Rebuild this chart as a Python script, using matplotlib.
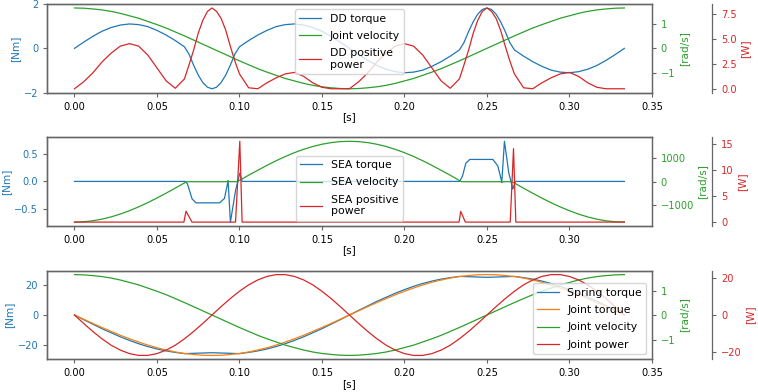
import numpy as np
import matplotlib
matplotlib.use("Agg")
import matplotlib.pyplot as plt

plt.rcParams.update({
    "font.size": 7.1,
    "axes.labelsize": 7.6,
    "legend.fontsize": 7.8,
    "legend.labelspacing": 0.68,
    "lines.linewidth": 0.9,
    "axes.edgecolor": "0.4",
    "axes.linewidth": 0.9,
    "xtick.color": "0.4",
    "ytick.color": "0.4",
    "xtick.labelcolor": "black",
    "xtick.major.size": 2.8,
    "ytick.major.size": 2.8,
})

C_BLUE, C_ORANGE, C_GREEN, C_RED = "#1f77b4", "#ff7f0e", "#2ca02c", "#d62728"

# one gait cycle sampled every 1/180 s
t = np.linspace(0.0, 1.0 / 3.0, 61)
# extra samples around the direct-drive torque/power peaks
t_extra = [0.0694, 0.0750, 0.0806, 0.0861, 0.0917, 0.0972,
           0.2361, 0.2417, 0.2472, 0.2528, 0.2583, 0.2639]
t_dd = np.sort(np.concatenate([t, t_extra]))

joint_vel = [1.65, 1.64, 1.61, 1.57, 1.51, 1.43, 1.33, 1.23, 1.10, 0.97, 0.83, 0.67, 0.51, 0.34, 0.17, 0.00,
             -0.17, -0.34, -0.51, -0.67, -0.83, -0.97, -1.10, -1.23, -1.33, -1.43, -1.51, -1.57, -1.61, -1.64, -1.65,
             -1.64, -1.61, -1.57, -1.51, -1.43, -1.33, -1.23, -1.10, -0.97, -0.83, -0.67, -0.51, -0.34, -0.17, 0.00,
             0.17, 0.34, 0.51, 0.67, 0.83, 0.97, 1.10, 1.23, 1.33, 1.43, 1.51, 1.57, 1.61, 1.64, 1.65]

dd_torque = [0.00, 0.28, 0.54, 0.77, 0.94, 1.05, 1.10, 1.07, 0.98, 0.81, 0.60, 0.35, 0.07,
             -0.26, -0.76, -1.20, -1.54, -1.75, -1.82, -1.75, -1.54, -1.20, -0.76, -0.26, 0.07,
             0.35, 0.60, 0.81, 0.98, 1.07, 1.10, 1.05, 0.94, 0.77, 0.54, 0.28, 0.00,
             -0.28, -0.54, -0.77, -0.94, -1.05, -1.10, -1.07, -0.98, -0.81, -0.60, -0.35,
             -0.07, 0.26, 0.76, 1.20, 1.54, 1.75, 1.82, 1.75, 1.54, 1.20, 0.76, 0.26, -0.07,
             -0.35, -0.60, -0.81, -0.98, -1.07, -1.10, -1.05, -0.94, -0.77, -0.54, -0.28, 0.00]

dd_power = [0.0, 0.7, 1.6, 2.7, 3.6, 4.3, 4.55, 4.3, 3.4, 2.1, 0.8, 0.05, 1.0,
            2.4, 3.9, 5.6, 6.9, 7.8, 8.15, 7.8, 7.1, 5.9, 4.3, 2.8, 1.5,
            0.1, 0.0, 0.6, 1.1, 1.5, 1.65, 1.25, 0.6, 0.15, 0.0, 0.0, 0.0,
            0.7, 1.6, 2.7, 3.6, 4.3, 4.55, 4.3, 3.4, 2.1, 0.8, 0.05,
            1.0, 2.4, 3.9, 5.6, 6.9, 7.8, 8.15, 7.8, 7.1, 5.9, 4.3, 2.8, 1.5,
            0.1, 0.0, 0.6, 1.1, 1.5, 1.65, 1.25, 0.6, 0.15, 0.0, 0.0, 0.0]

joint_torque = [0.0, -2.8, -5.6, -8.3, -10.9, -13.5, -15.8, -18.0, -20.0, -21.8, -23.3, -24.6, -25.6, -26.3, -26.8, -26.9,
                -26.8, -26.3, -25.6, -24.6, -23.3, -21.8, -20.0, -18.0, -15.8, -13.5, -10.9, -8.3, -5.6, -2.8, 0.0,
                2.8, 5.6, 8.3, 10.9, 13.5, 15.8, 18.0, 20.0, 21.8, 23.3, 24.6, 25.6, 26.3, 26.8, 26.9,
                26.8, 26.3, 25.6, 24.6, 23.3, 21.8, 20.0, 18.0, 15.8, 13.5, 10.9, 8.3, 5.6, 2.8, 0.0]

spring_torque = [0.0, -3.1, -6.1, -9.1, -11.8, -14.5, -16.9, -19.1, -21.0, -22.6, -23.9, -24.9, -25.7, -25.5, -25.3, -25.1,
                 -25.3, -25.5, -25.7, -24.9, -23.9, -22.6, -21.0, -19.1, -16.9, -14.5, -11.8, -9.1, -6.1, -3.1, 0.0,
                 3.1, 6.1, 9.1, 11.8, 14.5, 16.9, 19.1, 21.0, 22.6, 23.9, 24.9, 25.7, 25.5, 25.3, 25.1,
                 25.3, 25.5, 25.7, 24.9, 23.9, 22.6, 21.0, 19.1, 16.9, 14.5, 11.8, 9.1, 6.1, 3.1, 0.0]

joint_power = [0.0, -4.6, -9.0, -13.0, -16.5, -19.2, -21.1, -22.1, -22.1, -21.1, -19.2, -16.5, -13.0, -9.0, -4.6, 0.0,
               4.6, 9.0, 13.0, 16.5, 19.2, 21.1, 22.1, 22.1, 21.1, 19.2, 16.5, 13.0, 9.0, 4.6, 0.0,
               -4.6, -9.0, -13.0, -16.5, -19.2, -21.1, -22.1, -22.1, -21.1, -19.2, -16.5, -13.0, -9.0, -4.6, 0.0,
               4.6, 9.0, 13.0, 16.5, 19.2, 21.1, 22.1, 22.1, 21.1, 19.2, 16.5, 13.0, 9.0, 4.6, 0.0]

# SEA signals have their own (irregular) time stamps
t_sea_tau = [0.0, 0.0672, 0.0684, 0.0713, 0.0737, 0.0879, 0.0909, 0.0931, 0.0945, 0.0976, 0.1002, 0.1016,
             0.2335, 0.2352, 0.2372, 0.2396, 0.2536, 0.2566, 0.2590, 0.2606, 0.2632, 0.2657, 0.2672, 0.3333]
sea_torque = [0.0, 0.0, -0.04, -0.32, -0.39, -0.39, -0.31, 0.01, -0.74, -0.17, 0.15, 0.0,
              0.0, 0.10, 0.33, 0.40, 0.40, 0.28, -0.01, 0.73, 0.16, -0.14, 0.0, 0.0]

t_sea_vel = [0.0, 0.0056, 0.0111, 0.0167, 0.0222, 0.0278, 0.0333, 0.0389, 0.0444, 0.0500, 0.0556, 0.0611,
             0.0667, 0.0680, 0.0925, 0.0931, 0.0938, 0.0986, 0.1000, 0.1056, 0.1111, 0.1167, 0.1222, 0.1278,
             0.1333, 0.1389, 0.1444, 0.1500, 0.1556, 0.1611, 0.1667, 0.1722, 0.1778, 0.1833, 0.1889, 0.1944,
             0.2000, 0.2056, 0.2111, 0.2167, 0.2222, 0.2278, 0.2333, 0.2347, 0.2584, 0.2590, 0.2597, 0.2652,
             0.2667, 0.2722, 0.2778, 0.2833, 0.2889, 0.2944, 0.3000, 0.3056, 0.3111, 0.3167, 0.3222, 0.3278, 0.3333]
sea_vel = [-1700, -1686, -1644, -1575, -1481, -1361, -1221, -1058, -881, -686, -480, -269,
           -50, 0, 0, 40, 0, 0, 55, 274, 483, 690, 881, 1061,
           1221, 1363, 1481, 1576, 1645, 1686, 1700, 1686, 1644, 1575, 1481, 1361,
           1221, 1058, 881, 686, 480, 269, 50, 0, 0, -40, 0, 0,
           -59, -274, -488, -691, -885, -1061, -1223, -1366, -1484, -1578, -1646, -1687, -1700]

t_sea_pow = [0.0, 0.0663, 0.0676, 0.0712, 0.0976, 0.1002, 0.1016,
             0.2331, 0.2341, 0.2369, 0.2641, 0.2661, 0.2675, 0.3333]
sea_power = [0.0, 0.0, 2.1, 0.0, 0.0, 15.5, 0.0,
             0.0, 2.05, 0.0, 0.0, 14.1, 0.0, 0.0]

x_ticks = [0.0, 0.05, 0.10, 0.15, 0.20, 0.25, 0.30, 0.35]


def three_axes(ax):
    ax2 = ax.twinx()
    ax3 = ax.twinx()
    ax3.spines["right"].set_position(("axes", 1.1))
    ax.set_ylabel("[Nm]", color=C_BLUE, labelpad=2.5)
    ax2.set_ylabel("[rad/s]", color=C_GREEN, labelpad=2.5)
    ax3.set_ylabel("[W]", color=C_RED, labelpad=2.5)
    ax.tick_params(axis="y", labelcolor=C_BLUE)
    ax2.tick_params(axis="y", labelcolor=C_GREEN)
    ax3.tick_params(axis="y", labelcolor=C_RED)
    ax.set_xticks(x_ticks)
    ax.set_xlabel("[s]", labelpad=0.5)
    return ax2, ax3


fig, axs = plt.subplots(3, 1, figsize=(7.58, 3.92), dpi=100)
fig.subplots_adjust(left=0.062, right=0.860, top=0.990, bottom=0.083, hspace=0.5)

# direct drive
ax = axs[0]
ax2, ax3 = three_axes(ax)
l1, = ax.plot(t_dd, dd_torque, color=C_BLUE, label="DD torque")
l2, = ax2.plot(t, joint_vel, color=C_GREEN, label="Joint velocity")
l3, = ax3.plot(t_dd, dd_power, color=C_RED, label="DD positive\npower")
ax.set_yticks([-2, 0, 2])
ax2.set_yticks([-1, 0, 1])
ax3.set_yticks([0.0, 2.5, 5.0, 7.5])
ax3.legend([l1, l2, l3], [l.get_label() for l in (l1, l2, l3)], loc="upper center")

# series elastic actuator
ax = axs[1]
ax2, ax3 = three_axes(ax)
l1, = ax.plot(t_sea_tau, sea_torque, color=C_BLUE, label="SEA torque")
l2, = ax2.plot(t_sea_vel, sea_vel, color=C_GREEN, label="SEA velocity")
l3, = ax3.plot(t_sea_pow, sea_power, color=C_RED, label="SEA positive\npower")
ax.set_yticks([-0.5, 0.0, 0.5])
ax2.set_yticks([-1000, 0, 1000])
ax3.set_yticks([0, 5, 10, 15])
ax3.legend([l1, l2, l3], [l.get_label() for l in (l1, l2, l3)], loc="lower center")

# joint
ax = axs[2]
ax2, ax3 = three_axes(ax)
l1, = ax.plot(t, spring_torque, color=C_BLUE, label="Spring torque")
l2, = ax.plot(t, joint_torque, color=C_ORANGE, label="Joint torque")
l3, = ax2.plot(t, joint_vel, color=C_GREEN, label="Joint velocity")
l4, = ax3.plot(t, joint_power, color=C_RED, label="Joint power")
ax.set_yticks([-20, 0, 20])
ax2.set_yticks([-1, 0, 1])
ax3.set_yticks([-20, 0, 20])
ax3.legend([l1, l2, l3, l4], [l.get_label() for l in (l1, l2, l3, l4)], loc="lower right")

fig.savefig("out.png", dpi=100)
